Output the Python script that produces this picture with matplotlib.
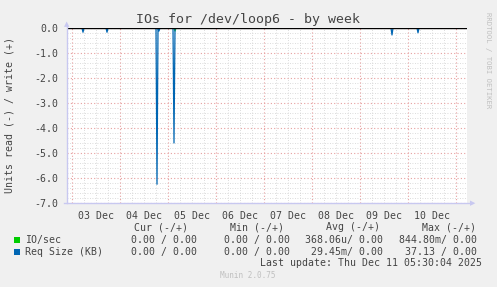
import datetime as dt
import numpy as np
import pandas as pd
import matplotlib
matplotlib.use("Agg")
import matplotlib.pyplot as plt
import matplotlib.dates as mdates

# --- data (read side, plotted negative) ---
start = dt.datetime(2025, 12, 2, 21, 30)
end = dt.datetime(2025, 12, 11, 5, 30)

req_spike_times = ["2025-12-03 05:30", "2025-12-03 17:30", "2025-12-04 18:30",
                   "2025-12-04 19:30", "2025-12-05 03:00", "2025-12-09 16:00",
                   "2025-12-10 05:00"]
req_spike_values = [-0.17, -0.17, -6.25, -0.12, -4.6, -0.28, -0.19]

io_spike_times = ["2025-12-05 03:30"]
io_spike_values = [-0.12]

y_ticks = [0, -1, -2, -3, -4, -5, -6, -7]
day_labels = ["03 Dec", "04 Dec", "05 Dec", "06 Dec", "07 Dec", "08 Dec", "09 Dec", "10 Dec"]

legend_rows = [
    ("IO/sec", "#00cc00", ["0.00 / 0.00", "0.00 / 0.00", "368.06u/ 0.00", "844.80m/ 0.00"]),
    ("Req Size (KB)", "#0066b3", ["0.00 / 0.00", "0.00 / 0.00", "29.45m/ 0.00", "37.13 / 0.00"]),
]
legend_headers = ["Cur (-/+)", "Min (-/+)", "Avg (-/+)", "Max (-/+)"]


def build_series(times, values):
    """Zero baseline at 30 min steps with the listed spikes set"""
    idx = pd.date_range(start, end, freq="30min")
    s = pd.Series(0.0, index=idx)
    for t, v in zip(times, values):
        s[pd.Timestamp(t)] = v
    return s.sort_index()


W, H = 497, 287
fig = plt.figure(figsize=(W / 100, H / 100), dpi=100, facecolor="#f0f0f0")
mono = "DejaVu Sans Mono"
txt = "#444444"

ax = fig.add_axes([67 / W, (H - 203) / H, 400 / W, 175 / H], facecolor="white")

io = build_series(io_spike_times, io_spike_values)
req = build_series(req_spike_times, req_spike_values)
ax.plot(io.index, io.values, color="#00cc00", lw=0.9, zorder=3)
ax.plot(req.index, req.values, color="#0066b3", lw=0.9, zorder=4)
ax.axhline(0, color="black", lw=1.0, zorder=5)

ax.set_xlim(start, end)
ax.set_ylim(-7, 0)

# grid: minor dotted grey, major dotted red
days = pd.date_range("2025-12-03", "2025-12-11", freq="D")
for d in days:
    ax.axvline(d, color="#e7a0a0", lw=0.8, ls=(0, (1, 2)), zorder=1)
for t in pd.date_range("2025-12-03", end, freq="6h"):
    if t.hour != 0:
        ax.axvline(t, color="#d0d0d0", lw=0.6, ls=(0, (1, 2)), zorder=0)
for y in y_ticks:
    ax.axhline(y, color="#e7a0a0", lw=0.8, ls=(0, (1, 2)), zorder=1)
for y in np.arange(-7, 0.01, 0.2):
    if abs(y - round(y)) > 1e-6:
        ax.axhline(y, color="#d0d0d0", lw=0.6, ls=(0, (1, 2)), zorder=0)

ax.set_yticks(y_ticks)
ax.set_yticklabels([f"{v:.1f}" for v in y_ticks], family=mono, fontsize=7.1, color=txt)
noons = [d + pd.Timedelta(hours=12) for d in days[:len(day_labels)]]
ax.set_xticks(noons)
ax.set_xticklabels(day_labels, family=mono, fontsize=7.1, color=txt)
ax.tick_params(length=0, pad=6)
for sp in ax.spines.values():
    sp.set_visible(False)

# axis arrows
acol = "#c8c8f0"
fig.add_artist(plt.Line2D([67 / W, 67 / W], [(H - 203) / H, (H - 25) / H],
                          transform=fig.transFigure, color=acol, lw=1))
fig.add_artist(plt.Line2D([64 / W, 472 / W], [(H - 203) / H, (H - 203) / H],
                          transform=fig.transFigure, color=acol, lw=1))
fig.text(67 / W, (H - 24) / H, "\u25b2", color=acol, fontsize=5, ha="center", va="center")
fig.text(473 / W, (H - 203) / H, "\u25b6", color=acol, fontsize=5, ha="center", va="center")

fig.text(248 / W, (H - 19) / H, "IOs for /dev/loop6 - by week", family=mono,
         fontsize=9.5, color=txt, ha="center", va="center")
fig.text(10 / W, (H - 115) / H, "Units read (-) / write (+)", family=mono,
         fontsize=7.1, color=txt, rotation=90, ha="center", va="center")
fig.text(488 / W, (H - 60) / H, "RRDTOOL / TOBI OETIKER", family=mono,
         fontsize=5.2, color="#c0c0c0", rotation=270, ha="center", va="center")

# legend block
header_x = [161, 257, 353, 449]
value_right = [197, 290, 383, 477]
for x, h in zip(header_x, legend_headers):
    fig.text(x / W, (H - 227) / H, h, family=mono, fontsize=7.1, color=txt,
             ha="center", va="center")
for i, (name, col, vals) in enumerate(legend_rows):
    y = 240 + i * 12
    fig.patches.append(plt.Rectangle(((14) / W, (H - y - 3) / H), 6 / W, 6 / H,
                                     transform=fig.transFigure, facecolor=col,
                                     edgecolor="none"))
    fig.text(25 / W, (H - y) / H, name, family=mono, fontsize=7.1, color=txt,
             ha="left", va="center")
    for xr, v in zip(value_right, vals):
        fig.text(xr / W, (H - y) / H, v, family=mono, fontsize=7.1, color=txt,
                 ha="right", va="center")

fig.text(482 / W, (H - 263) / H, "Last update: Thu Dec 11 05:30:04 2025", family=mono,
         fontsize=7.1, color=txt, ha="right", va="center")
fig.text(248 / W, (H - 276) / H, "Munin 2.0.75", family=mono, fontsize=5.5,
         color="#c0c0c0", ha="center", va="center")

fig.savefig("out.png", dpi=100, facecolor=fig.get_facecolor())
